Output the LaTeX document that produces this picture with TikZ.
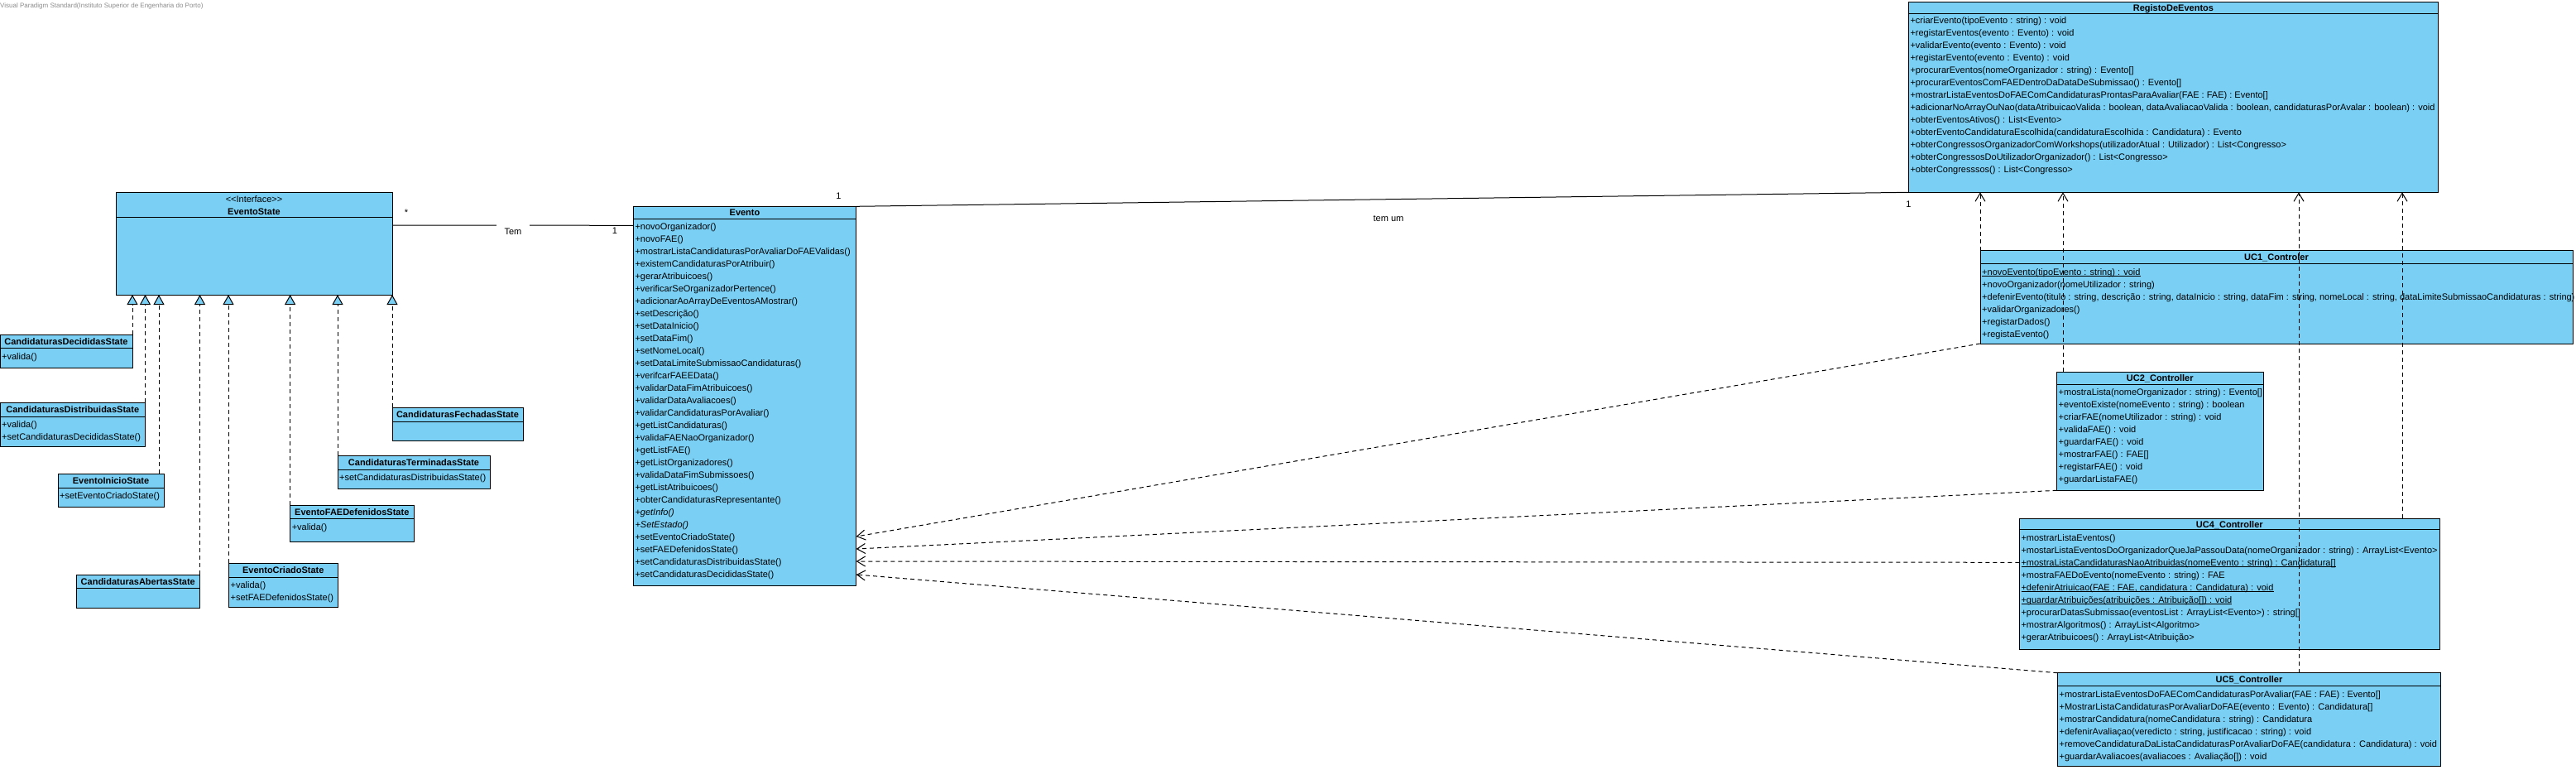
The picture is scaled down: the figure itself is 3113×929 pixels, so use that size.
\documentclass[tikz,border=0pt]{standalone}
\usepackage{fontspec}
\newfontfamily\vpfont{Liberation Sans}
\usetikzlibrary{arrows.meta}
\definecolor{vpblue}{RGB}{122,207,245}
\definecolor{wmgray}{RGB}{140,140,140}
\tikzset{
  classbox/.style={draw=black, fill=vpblue, line width=1pt, anchor=north west, inner sep=0pt, outer sep=0pt},
  sepline/.style={draw=black, line width=1pt},
  titletext/.style={font=\vpfont\bfseries\fontsize{11}{13}\selectfont, inner sep=0pt, text height=8pt, text depth=0pt, anchor=center},
  stereo/.style={font=\vpfont\fontsize{11}{13}\selectfont, inner sep=0pt, text height=8pt, text depth=0pt, anchor=center},
  optext/.style={font=\vpfont\fontsize{11}{13}\selectfont, inner sep=0pt, anchor=base west},
  lbl/.style={font=\vpfont\fontsize{11}{13}\selectfont, inner sep=0pt, text height=8pt, text depth=0pt, anchor=center},
  realize/.style={draw=black, line width=1pt, dash pattern=on 5pt off 4pt, -{Triangle[length=12pt, width=13pt, fill=vpblue]}},
  depend/.style={draw=black, line width=1pt, dash pattern=on 5pt off 4pt, -{Straight Barb[length=10pt, width=12pt]}},
  assoc/.style={draw=black, line width=1pt},
}
% underline close to the baseline (static operations)
\newcommand{\stul}[1]{\setbox0\hbox{#1}\rlap{\rule[-2.2pt]{\wd0}{0.8pt}}\box0}
% #1 name, #2 x, #3 y, #4 width, #5 height, #6 header height, #7 title
\newcommand{\umlclass}[7]{%
  \node[classbox, minimum width=#4pt, minimum height=#5pt] (#1) at (#2,#3) {};
  \draw[sepline] ([yshift=-#6pt]#1.north west) -- ([yshift=-#6pt]#1.north east);
  \node[titletext] (#1-t) at ([yshift=-#6*0.5pt]#1.north) {#7};
}
% #1 name, #2 first row centre below box top, #3 list of operations
\newcommand{\umlops}[3]{%
  \foreach \op [count=\k] in {#3} {
    \node[optext] (#1-op\k) at ([xshift=2pt, yshift={-(#2+3.7+15*(\k-1))}]#1.north west) {\op};
  }
}
\begin{document}
\begin{tikzpicture}[x=1pt,y=-1pt]
\useasboundingbox (0,0) rectangle (3113,929);
\fill[white] (0,0) rectangle (3113,929);

\node[font=\vpfont\fontsize{8}{10}\selectfont, text=wmgray, inner sep=0pt, anchor=west] (wm) at (0,7) {Visual Paradigm Standard(Instituto Superior de Engenharia do Porto)};

% ---------- interface ----------
\node[classbox, minimum width=334pt, minimum height=124pt] (est) at (140,232) {};
\draw[sepline] ([yshift=-30pt]est.north west) -- ([yshift=-30pt]est.north east);
\node[stereo] (est-s) at ([yshift=-8pt]est.north) {<<Interface>>};
\node[titletext] (est-t) at ([yshift=-23pt]est.north) {EventoState};

% ---------- states ----------
\umlclass{sDec}{0}{404}{160}{40}{16}{CandidaturasDecididasState}
\umlops{sDec}{26.3}{{+valida()}}
\umlclass{sDist}{0}{486}{175.5}{53}{17}{CandidaturasDistribuidasState}
\umlops{sDist}{26.3}{{+valida()},{+setCandidaturasDecididasState()}}
\umlclass{sIni}{70}{572}{128}{40}{17}{EventoInicioState}
\umlops{sIni}{26.3}{{+setEventoCriadoState()}}
\umlclass{sAbe}{92.6}{694}{148.4}{40}{16}{CandidaturasAbertasState}
\umlclass{sCri}{276.5}{680}{131.5}{53}{17}{EventoCriadoState}
\umlops{sCri}{26.7}{{+valida()},{+setFAEDefenidosState()}}
\umlclass{sFAE}{350.6}{610}{149.4}{44}{16}{EventoFAEDefenidosState}
\umlops{sFAE}{26.3}{{+valida()}}
\umlclass{sTer}{408}{550}{184}{40}{17}{CandidaturasTerminadasState}
\umlops{sTer}{26.7}{{+setCandidaturasDistribuidasState()}}
\umlclass{sFec}{474}{492}{158}{40}{17}{CandidaturasFechadasState}

% ---------- Evento ----------
\umlclass{ev}{765.3}{249.3}{269.4}{458}{15}{Evento}
\umlops{ev}{24.4}{{+novoOrganizador()},{+novoFAE()},{+mostrarListaCandidaturasPorAvaliarDoFAEValidas()},{+existemCandidaturasPorAtribuir()},{+gerarAtribuicoes()},{+verificarSeOrganizadorPertence()},{+adicionarAoArrayDeEventosAMostrar()},{+setDescrição()},{+setDataInicio()},{+setDataFim()},{+setNomeLocal()},{+setDataLimiteSubmissaoCandidaturas()},{+verifcarFAEEData()},{+validarDataFimAtribuicoes()},{+validarDataAvaliacoes()},{+validarCandidaturasPorAvaliar()},{+getListCandidaturas()},{+validaFAENaoOrganizador()},{+getListFAE()},{+getListOrganizadores()},{+validaDataFimSubmissoes()},{+getListAtribuicoes()},{+obterCandidaturasRepresentante()},{\textit{+getInfo()}},{\textit{+SetEstado()}},{+setEventoCriadoState()},{+setFAEDefenidosState()},{+setCandidaturasDistribuidasState()},{+setCandidaturasDecididasState()}}

% ---------- RegistoDeEventos ----------
\umlclass{reg}{2306.3}{2.7}{640.2}{229.6}{13.5}{RegistoDeEventos}
\umlops{reg}{22.3}{{+criarEvento(tipoEvento : string) : void},{+registarEventos(evento : Evento) : void},{+validarEvento(evento : Evento) : void},{+registarEvento(evento : Evento) : void},{+procurarEventos(nomeOrganizador : string) : Evento[]},{+procurarEventosComFAEDentroDaDataDeSubmissao() : Evento[]},{+mostrarListaEventosDoFAEComCandidaturasProntasParaAvaliar(FAE : FAE) : Evento[]},{+adicionarNoArrayOuNao(dataAtribuicaoValida : boolean, dataAvaliacaoValida : boolean, candidaturasPorAvalar : boolean) : void},{+obterEventosAtivos() : List<Evento>},{+obterEventoCandidaturaEscolhida(candidaturaEscolhida : Candidatura) : Evento},{+obterCongressosOrganizadorComWorkshops(utilizadorAtual : Utilizador) : List<Congresso>},{+obterCongressosDoUtilizadorOrganizador() : List<Congresso>},{+obterCongresssos() : List<Congresso>}}

% ---------- controllers ----------
\umlclass{uc1}{2393}{302.7}{716}{112.3}{16}{UC1\_Controler}
\umlops{uc1}{25.6}{{\stul{+novoEvento(tipoEvento : string) : void}},{+novoOrganizador(nomeUtilizador : string)},{+defenirEvento(titulo : string, descrição : string, dataInicio : string, dataFim : string, nomeLocal : string, dataLimiteSubmissaoCandidaturas : string)},{+validarOrganizadores()},{+registarDados()},{+registaEvento()}}

\umlclass{uc2}{2485.5}{449.3}{249.5}{143}{14.7}{UC2\_Controller}
\umlops{uc2}{24}{{+mostraLista(nomeOrganizador : string) : Evento[]},{+eventoExiste(nomeEvento : string) : boolean},{+criarFAE(nomeUtilizador : string) : void},{+validaFAE() : void},{+guardarFAE() : void},{+mostrarFAE() : FAE[]},{+registarFAE() : void},{+guardarListaFAE()}}

\umlclass{uc4}{2440.3}{626.3}{508}{158}{13.4}{UC4\_Controller}
\umlops{uc4}{23}{{+mostrarListaEventos()},{+mostarListaEventosDoOrganizadorQueJaPassouData(nomeOrganizador : string) : ArrayList<Evento>},{\stul{+mostraListaCandidaturasNaoAtribuidas(nomeEvento : string) : Candidatura[]}},{+mostraFAEDoEvento(nomeEvento : string) : FAE},{\stul{+defenirAtriuicao(FAE : FAE, candidatura : Candidatura) : void}},{\stul{+guardarAtribuições(atribuições : Atribuição[]) : void}},{+procurarDatasSubmissao(eventosList : ArrayList<Evento>) : string[]},{+mostrarAlgoritmos() : ArrayList<Algoritmo>},{+gerarAtribuicoes() : ArrayList<Atribuição>}}

\umlclass{uc5}{2486.4}{812.7}{463.2}{112.6}{16}{UC5\_Controller}
\umlops{uc5}{26.3}{{+mostrarListaEventosDoFAEComCandidaturasPorAvaliar(FAE : FAE) : Evento[]},{+MostrarListaCandidaturasPorAvaliarDoFAE(evento : Evento) : Candidatura[]},{+mostrarCandidatura(nomeCandidatura : string) : Candidatura},{+defenirAvaliaçao(veredicto : string, justificacao : string) : void},{+removeCandidaturaDaListaCandidaturasPorAvaliarDoFAE(candidatura : Candidatura) : void},{+guardarAvaliacoes(avaliacoes : Avaliação[]) : void}}

% ---------- realizations ----------
\coordinate (gDec) at (sDec.north east);
\coordinate (gDist) at (sDist.north east);
\coordinate (gIni) at ([xshift=-6pt]sIni.north east);
\coordinate (gAbe) at ([xshift=0.5pt]sAbe.north east);
\coordinate (gCri) at ([xshift=-0.5pt]sCri.north west);
\coordinate (gFAE) at (sFAE.north west);
\coordinate (gTer) at (sTer.north west);
\coordinate (gFec) at (sFec.north west);
\foreach \g in {gDec,gDist,gIni,gAbe,gCri,gFAE,gTer,gFec}
  \draw[realize] (\g) -- (\g |- est.south);

% ---------- associations ----------
\coordinate (temA) at ([yshift=-40pt]est.north east);
\coordinate (temB) at ([yshift=-23pt]ev.north west);
\draw[assoc] (temA) -- (temB);
\node[lbl, fill=white, minimum width=40pt, minimum height=17pt] (temLbl) at (620,279.5) {Tem};
\node[lbl] (mStar) at (491,256) {*};
\node[lbl] (mOne1) at (743,278.3) {1};

\draw[assoc] (ev.north east) -- (reg.south west);
\node[lbl] (mOne2) at (1013.3,236.7) {1};
\node[lbl] (mOne3) at (2306.5,246) {1};
\node[lbl] (temum) at (1678,263) {tem um};

% ---------- dependencies to RegistoDeEventos ----------
\coordinate (u2up) at ([xshift=7.5pt]uc2.north west);
\coordinate (u4up) at ([xshift=462.7pt]uc4.north west);
\coordinate (u5up) at ([xshift=291.6pt]uc5.north west);
\draw[depend] (uc1.north west) -- (uc1.north west |- reg.south);
\draw[depend] (u2up) -- (u2up |- reg.south);
\draw[depend] (u4up) -- (u4up |- reg.south);
\draw[depend] (u5up) -- (u5up |- reg.south);

% ---------- dependencies to Evento ----------
\coordinate (evIn1) at ([yshift=-398.7pt]ev.north east);
\coordinate (evIn2) at ([yshift=-413.7pt]ev.north east);
\coordinate (evIn3) at ([yshift=-428.7pt]ev.north east);
\coordinate (evIn4) at ([yshift=-444.7pt]ev.north east);
\coordinate (u4src) at ([yshift=-53pt]uc4.north west);
\draw[depend] (uc1.south west) -- (evIn1);
\draw[depend] (uc2.south west) -- (evIn2);
\draw[depend] (u4src) -- (evIn3);
\draw[depend] (uc5.north west) -- (evIn4);
\end{tikzpicture}
\end{document}
